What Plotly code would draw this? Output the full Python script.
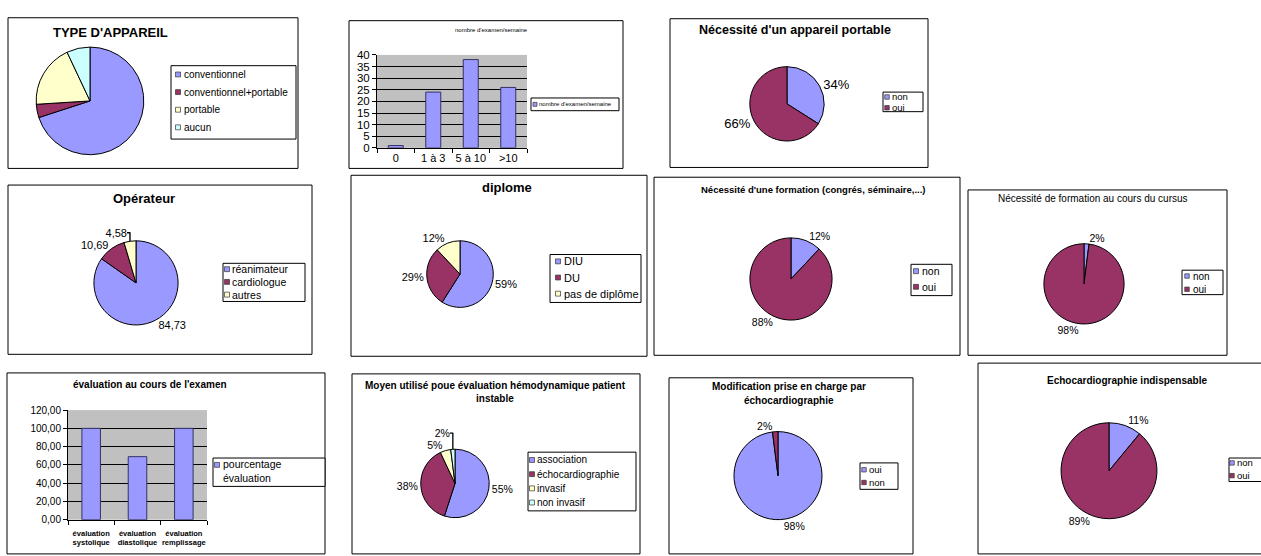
import plotly.graph_objects as go

W, H = 1261, 556
FONT = "Liberation Sans, Arial, sans-serif"
BLUE, MAROON, YELLOW, CYAN = "#9999FF", "#993366", "#FFFFCC", "#CCFFFF"

# ---------------- data ----------------
appareil_labels = ["conventionnel", "conventionnel+portable", "portable", "aucun"]
appareil_values = [70, 4, 19, 7]

examen_cats = ["0", "1 à 3", "5 à 10", ">10"]
examen_values = [1, 24, 38, 26]
examen_series = "nombre d'examen/semaine"

portable_labels = ["non", "oui"]
portable_values = [34, 66]

operateur_labels = ["réanimateur", "cardiologue", "autres"]
operateur_values = [84.73, 10.69, 4.58]

diplome_labels = ["DIU", "DU", "pas de diplôme"]
diplome_values = [59, 29, 12]

formation_labels = ["non", "oui"]
formation_values = [12, 88]

cursus_labels = ["non", "oui"]
cursus_values = [2, 98]

evaluation_cats = ["évaluation<br>systolique", "évaluation<br>diastolique", "évaluation<br>remplissage"]
evaluation_values = [100, 69, 100]
evaluation_series = "pourcentage<br>évaluation"

moyen_labels = ["association", "échocardiographie", "invasif", "non invasif"]
moyen_values = [55, 38, 5, 2]

modif_labels = ["oui", "non"]
modif_values = [98, 2]

indisp_labels = ["non", "oui"]
indisp_values = [11, 89]

fig = go.Figure()
shapes = []
annotations = []


def px(x):
    return x / W


def py(y):
    return 1 - y / H


def box(x0, y0, x1, y1, fill=None, width=1):
    shapes.append(dict(type="rect", xref="paper", yref="paper",
                       x0=px(x0), x1=px(x1), y0=py(y1), y1=py(y0),
                       line=dict(color="black", width=width),
                       fillcolor=fill if fill else "rgba(0,0,0,0)"))


def text(x, y, s, size, bold=False, anchor="center"):
    annotations.append(dict(x=px(x), y=py(y), xref="paper", yref="paper",
                            text=f"<b>{s}</b>" if bold else s, showarrow=False,
                            xanchor=anchor, yanchor="middle",
                            font=dict(family=FONT, size=size, color="black")))


def legend(bx, labels, colors, y0, step, sqx, tx, fs, sq=5):
    box(*bx, fill="white")
    for i, (lab, col) in enumerate(zip(labels, colors)):
        y = y0 + i * step
        shapes.append(dict(type="rect", xref="paper", yref="paper",
                           x0=px(sqx - sq / 2), x1=px(sqx + sq / 2),
                           y0=py(y + sq / 2), y1=py(y - sq / 2),
                           line=dict(color="#333333", width=0.7), fillcolor=col))
        text(tx, y, lab, fs, anchor="left")


def add_pie(labels, values, colors, cx, cy, r, fmt=None, fs=10):
    kw = {}
    if fmt is None:
        kw["textinfo"] = "none"
    else:
        kw["texttemplate"] = fmt
        kw["textposition"] = "outside"
        kw["outsidetextfont"] = dict(size=fs, color="black", family=FONT)
    fig.add_trace(go.Pie(labels=labels, values=values, sort=False,
                         direction="clockwise", rotation=0,
                         marker=dict(colors=colors, line=dict(color="black", width=1)),
                         domain=dict(x=[px(cx - r), px(cx + r)], y=[py(cy + r), py(cy - r)]),
                         showlegend=False, **kw))


# ---------------- panel 1 : TYPE D'APPAREIL ----------------
box(8, 12, 298, 166)
text(110, 27, "TYPE D'APPAREIL", 13, bold=True)
add_pie(appareil_labels, appareil_values, [BLUE, MAROON, YELLOW, CYAN], 90, 97, 55)
legend((171, 61, 296, 136), appareil_labels, [BLUE, MAROON, YELLOW, CYAN], 70, 18, 178, 182, 10)

# ---------------- panel 2 : nombre d'examen/semaine ----------------
box(349, 15, 623, 166)
text(491, 25, examen_series, 6)
fig.add_trace(go.Bar(x=examen_cats, y=examen_values, width=0.4, xaxis="x", yaxis="y",
                     marker=dict(color=BLUE, line=dict(color="#333366", width=1)),
                     showlegend=False, name=examen_series))
legend((531, 94, 619, 107), [examen_series], [BLUE], 100.5, 0, 535, 537, 6, sq=4)

# ---------------- panel 3 : Nécessité d'un appareil portable ----------------
box(670, 13, 928, 165)
text(795, 25, "Nécessité d'un appareil portable", 12.5, bold=True)
add_pie(portable_labels, portable_values, [BLUE, MAROON], 787, 100, 38,
        fmt="%{percent:.0%}", fs=13)
legend((883, 88, 923, 108), portable_labels, [BLUE, MAROON], 93, 11, 887, 890, 9.5, sq=4.5)

# ---------------- panel 4 : Opérateur ----------------
box(8, 183, 312, 356)
text(144, 197, "Opérateur", 13, bold=True)
add_pie(operateur_labels, operateur_values, [BLUE, MAROON, YELLOW], 136, 283, 43,
        fmt="%{value:.2f}", fs=11)
legend((223, 263, 305, 302), operateur_labels, [BLUE, MAROON, YELLOW], 269, 13, 227, 230, 10.5)

# ---------------- panel 5 : diplome ----------------
box(351, 173, 647, 358)
text(507, 185, "diplome", 13, bold=True)
add_pie(diplome_labels, diplome_values, [BLUE, MAROON, YELLOW], 460, 274, 34,
        fmt="%{percent:.0%}", fs=11)
legend((550, 254, 641, 303), diplome_labels, [BLUE, MAROON, YELLOW], 261, 16.5, 558, 562, 11)

# ---------------- panel 6 : Nécessité d'une formation ----------------
box(654, 175, 960, 357)
text(813, 188, "Nécessité d'une formation (congrés, séminaire,...)", 9.5, bold=True)
add_pie(formation_labels, formation_values, [BLUE, MAROON], 791, 279, 42,
        fmt="%{percent:.0%}", fs=10.5)
legend((911, 264, 952, 296), formation_labels, [BLUE, MAROON], 271, 16, 916, 920, 10.5)

# ---------------- panel 7 : cursus ----------------
box(968, 188, 1227, 357)
text(1093, 197, "Nécessité de formation au cours du cursus", 10)
add_pie(cursus_labels, cursus_values, [BLUE, MAROON], 1084, 284, 41,
        fmt="%{percent:.0%}", fs=10.5)
legend((1182, 270, 1223, 295), cursus_labels, [BLUE, MAROON], 276, 13.5, 1187, 1191, 10, sq=4.5)

# ---------------- panel 8 : évaluation au cours de l'examen ----------------
box(7, 375, 325, 560)
text(150, 387, "évaluation au cours de l'examen", 10, bold=True)
fig.add_trace(go.Bar(x=evaluation_cats, y=evaluation_values, width=0.4, xaxis="x2", yaxis="y2",
                     marker=dict(color=BLUE, line=dict(color="#333366", width=1)),
                     showlegend=False, name="pourcentage évaluation"))
box(213, 462, 325, 491, fill="white")
shapes.append(dict(type="rect", xref="paper", yref="paper",
                   x0=px(214.5), x1=px(219.5), y0=py(471.5), y1=py(466.5),
                   line=dict(color="#333333", width=0.7), fillcolor=BLUE))
annotations.append(dict(x=px(221), y=py(475), xref="paper", yref="paper",
                        text=evaluation_series, showarrow=False, align="left",
                        xanchor="left", yanchor="middle",
                        font=dict(family=FONT, size=10.5, color="black")))

# ---------------- panel 9 : Moyen utilisé ----------------
box(352, 376, 640, 560)
text(495, 388, "Moyen utilisé poue évaluation hémodynamique patient", 10, bold=True)
text(495, 401, "instable", 10, bold=True)
add_pie(moyen_labels, moyen_values, [BLUE, MAROON, YELLOW, CYAN], 455, 488, 35,
        fmt="%{percent:.0%}", fs=10.5)
legend((528, 456, 636, 516), moyen_labels, [BLUE, MAROON, YELLOW, CYAN], 464, 14.5, 532, 535, 10)

# ---------------- panel 10 : Modification ----------------
box(669, 380, 913, 560)
text(789, 389, "Modification prise en charge par", 10, bold=True)
text(789, 403, "échocardiographie", 10, bold=True)
add_pie(modif_labels, modif_values, [BLUE, MAROON], 778, 480, 45,
        fmt="%{percent:.0%}", fs=10.5)
legend((860, 467, 898, 494), modif_labels, [BLUE, MAROON], 474, 13, 864, 867, 9.5, sq=4.5)

# ---------------- panel 11 : Echocardiographie indispensable ----------------
box(978, 365, 1265, 560)
text(1127, 383, "Echocardiographie indispensable", 10, bold=True)
add_pie(indisp_labels, indisp_values, [BLUE, MAROON], 1109, 475, 49,
        fmt="%{percent:.0%}", fs=10.5)
legend((1229, 462, 1265, 486), indisp_labels, [BLUE, MAROON], 467, 13, 1232, 1235, 9.5, sq=4.5)

axis_common = dict(showline=True, linecolor="black", linewidth=1, ticks="outside",
                   tickcolor="black", ticklen=4, zeroline=False, fixedrange=True)

fig.update_layout(
    width=W, height=H, autosize=False,
    margin=dict(l=0, r=0, t=0, b=0),
    paper_bgcolor="white", plot_bgcolor="#C0C0C0",
    separators=",.",
    font=dict(family=FONT, color="black"),
    showlegend=False,
    xaxis=dict(domain=[px(377), px(527)], anchor="y", type="category",
               showgrid=False, tickson="boundaries", tickangle=0,
               tickfont=dict(size=11, family=FONT), **axis_common),
    yaxis=dict(domain=[py(145), py(50)], anchor="x", range=[0, 40], dtick=5,
               showgrid=True, gridcolor="black", gridwidth=1,
               tickfont=dict(size=11.5, family=FONT), **axis_common),
    xaxis2=dict(domain=[px(68), px(207)], anchor="y2", type="category",
                showgrid=False, tickson="boundaries", tickangle=0,
                ticklabelstandoff=6,
                tickfont=dict(size=7.5, family=FONT, weight="bold"), **axis_common),
    yaxis2=dict(domain=[py(525), py(413)], anchor="x2", range=[0, 120], dtick=20,
                tickformat=".2f", showgrid=True, gridcolor="black", gridwidth=1,
                tickfont=dict(size=10, family=FONT), **axis_common),
    shapes=shapes,
    annotations=annotations,
)

fig.write_html("out.html")
